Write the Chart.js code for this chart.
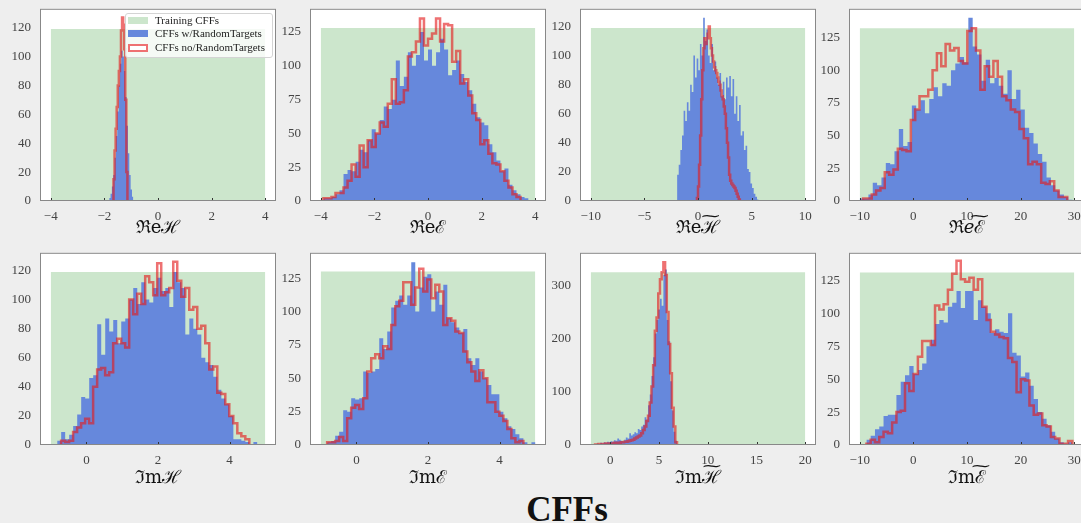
<!DOCTYPE html>
<html>
<head>
<meta charset="utf-8">
<title>CFFs</title>
<script src="https://cdn.jsdelivr.net/npm/chart.js@4.4.1/dist/chart.umd.min.js"></script>
<style>
  body { margin: 0; width: 1081px; height: 523px; overflow: hidden; position: relative; background: #eeeeee; }
  canvas { position: absolute; }
  .xt { position: absolute; z-index: 5; font-family: "DejaVu Serif", serif; font-size: 18px; line-height: 18px; color: #111; white-space: nowrap; transform: translateX(-50%); }
  .tw { position: relative; display: inline-block; }
  .tl { position: absolute; left: 50%; top: -11px; font-size: 14px; font-style: normal; transform: translateX(-50%) scaleX(1.9); }
  #leg { position: absolute; z-index: 5; left: 125px; top: 13px; width: 148px; height: 45px; box-sizing: border-box;
         background: rgba(255,255,255,0.8); border: 1px solid #d4d4d4; border-radius: 3px;
         font: 11px/13px "Liberation Serif", serif; color: #222; }
  #leg .sw { position: absolute; left: 2px; width: 20px; height: 7px; box-sizing: border-box; }
  #leg .lt { position: absolute; left: 29px; white-space: nowrap; }
  #title { position: absolute; z-index: 5; left: 567px; top: 492px; transform: translateX(-50%);
           font: bold 35px/35px "Liberation Serif", serif; color: #111; }
</style>
</head>
<body>
<div id="leg">
  <span class="sw" style="top:3px;background:#cce6cc"></span><span class="lt" style="top:0px">Training CFFs</span>
  <span class="sw" style="top:16px;background:#6688dc"></span><span class="lt" style="top:13px">CFFs w/RandomTargets</span>
  <span class="sw" style="top:30px;height:8px;background:#fff;border:2px solid rgba(228,26,28,0.62)"></span><span class="lt" style="top:27px">CFFs no/RandomTargets</span>
</div>
<div id="title">CFFs</div>
<script>
// panels: ReH, ReE, ReH~, ReE~, ImH, ImE, ImH~, ImE~
const xTitles = [
  'ℜeℋ', 'ℜeℰ', 'ℜe<span class="tw">ℋ<span class="tl">~</span></span>', 'ℜ<i>e</i><span class="tw">ℰ<span class="tl">~</span></span>',
  'ℑmℋ', 'ℑmℰ', 'ℑm<span class="tw">ℋ<span class="tl">~</span></span>', 'ℑm<span class="tw">ℰ<span class="tl">~</span></span>'
];

// axis limits and ticks
const xMin = [-4.4, -4.4, -11, -12, -1.3, -1.3, -3.1, -12];
const xMax = [4.4, 4.4, 11, 32, 5.3, 5.3, 21.1, 32];
const yMax = [133, 142.2, 132.2, 146.9, 132.2, 144, 361.6, 146];
const xTicks = [
  [-4, -2, 0, 2, 4], [-4, -2, 0, 2, 4], [-10, -5, 0, 5, 10], [-10, 0, 10, 20, 30],
  [0, 2, 4], [0, 2, 4], [0, 5, 10, 15, 20], [-10, 0, 10, 20, 30]
];
const yTicks = [
  [0, 20, 40, 60, 80, 100, 120], [0, 25, 50, 75, 100, 125], [0, 20, 40, 60, 80, 100, 120], [0, 25, 50, 75, 100, 125],
  [0, 20, 40, 60, 80, 100, 120], [0, 25, 50, 75, 100, 125], [0, 100, 200, 300], [0, 25, 50, 75, 100, 125]
];

// Training CFFs (flat band)
const trainLo = [-4, -4, -10, -10, -1, -1, -2, -10];
const trainHi = [4, 4, 10, 30, 5, 5, 20, 30];
const trainCount = [119, 128, 119, 132, 119, 130, 325, 131];

// CFFs w/RandomTargets
const blueStart = [-1.82, -3.9, -1.95, -10, -0.82, -0.82, -1.9, -8.76];
const blueWidth = [0.05, 0.15, 0.152, 0.81, 0.112, 0.112, 0.175, 0.8];
const blueReH = [2, 5, 10, 18, 30, 45, 62, 80, 95, 104, 100, 90, 72, 52, 33, 18, 8, 3];
const blueReE = [2, 2, 3, 5, 8, 20, 23, 22, 29, 38, 36, 45, 53, 50, 60, 70, 68, 75, 104, 85,
  92, 110, 100, 108, 125, 104, 112, 100, 110, 120, 112, 93, 97, 104, 94, 88, 82, 72, 62, 58,
  56, 42, 36, 30, 22, 24, 12, 8, 5, 3, 2];
const blueReHt = [18, 25, 35, 45, 62, 55, 68, 62, 80, 75, 100, 85, 98, 90, 108, 100, 126, 110, 118, 100,
  95, 108, 90, 96, 85, 80, 88, 72, 82, 70, 85, 78, 86, 72, 84, 60, 72, 55, 66, 45,
  48, 35, 38, 22, 20, 12, 9, 5, 3, 1];
const blueReEt = [2, 2, 5, 14, 12, 18, 29, 28, 38, 55, 42, 45, 73, 70, 77, 67, 78, 87, 80, 90,
  88, 100, 105, 110, 106, 140, 118, 112, 92, 108, 90, 94, 88, 82, 100, 78, 85, 70, 56, 52,
  44, 36, 30, 18, 12, 8, 5, 3, 1];
const blueImH = [3, 9, 4, 7, 13, 21, 33, 32, 46, 48, 83, 62, 87, 78, 86, 70, 85, 87, 100, 108,
  97, 112, 100, 98, 108, 115, 106, 108, 95, 119, 112, 108, 76, 87, 80, 76, 60, 57, 55, 47,
  38, 32, 28, 20, 4, 4, 3, 2, 0, 2];
const blueImE = [2, 3, 7, 10, 26, 25, 35, 34, 35, 55, 54, 55, 57, 80, 72, 85, 103, 108, 112, 105,
  112, 137, 100, 118, 126, 128, 100, 115, 105, 120, 95, 92, 88, 84, 87, 65, 60, 65, 55, 50,
  45, 38, 38, 25, 20, 14, 12, 8, 5, 2, 0, 2];
const blueImHt = [2, 0, 2, 3, 2, 4, 3, 5, 4, 6, 5, 7, 6, 9, 8, 12, 10, 8, 7, 10,
  14, 12, 22, 18, 20, 24, 22, 30, 28, 35, 38, 52, 48, 75, 95, 130, 165, 210, 235, 255,
  275, 262, 320, 330, 235, 195, 120, 65, 25, 8];
const blueImEt = [4, 7, 12, 14, 22, 23, 23, 38, 48, 53, 60, 54, 57, 62, 75, 80, 92, 95, 93, 105,
  108, 117, 104, 117, 117, 95, 110, 105, 100, 85, 88, 86, 85, 100, 70, 68, 52, 55, 45, 35,
  25, 20, 15, 10, 5, 2, 1, 2];

// CFFs no/RandomTargets
const redStart = [-1.66, -3.9, -0.1, -9.38, -0.71, -0.82, -1.55, -8.76];
const redWidth = [0.04, 0.15, 0.1, 0.81, 0.112, 0.112, 0.175, 0.8];
const redReH = [15, 35, 50, 65, 80, 90, 100, 118, 127, 122, 105, 70, 20];
const redReE = [2, 2, 3, 6, 6, 10, 15, 27, 18, 41, 25, 45, 40, 50, 58, 55, 72, 90, 72, 73,
  82, 107, 110, 118, 135, 115, 120, 124, 135, 118, 131, 130, 103, 111, 87, 90, 78, 65, 60, 42,
  45, 35, 28, 27, 22, 15, 10, 5, 3];
const redReHt = [2, 10, 25, 45, 70, 90, 105, 112, 108, 112, 115, 120, 112, 105, 100, 96, 92, 90, 88, 85,
  82, 80, 76, 72, 70, 65, 60, 50, 40, 30, 18, 14, 12, 11, 10, 9, 7, 5, 3, 1];
const redReEt = [2, 2, 5, 8, 10, 22, 20, 24, 40, 39, 38, 62, 70, 80, 80, 85, 100, 113, 103, 120,
  115, 117, 107, 105, 130, 132, 115, 85, 103, 95, 107, 95, 80, 77, 70, 68, 55, 48, 28, 30,
  28, 14, 13, 15, 8, 3, 3];
const redImH = [3, 2, 3, 9, 12, 15, 18, 15, 40, 52, 53, 48, 50, 70, 73, 70, 67, 100, 90, 104,
  97, 116, 112, 103, 125, 103, 105, 108, 126, 113, 102, 108, 93, 95, 80, 82, 70, 52, 54, 36,
  35, 28, 20, 15, 8, 6, 4];
const redImE = [2, 2, 3, 6, 3, 20, 28, 30, 27, 35, 55, 65, 68, 65, 74, 72, 90, 104, 108, 122,
  122, 105, 118, 132, 115, 124, 110, 120, 115, 90, 95, 93, 85, 84, 70, 62, 55, 48, 56, 50,
  32, 32, 25, 22, 18, 12, 5, 2, 3];
const redImHt = [1, 1, 2, 1, 2, 2, 3, 2, 3, 3, 3, 4, 3, 4, 4, 5, 5, 6, 6, 7,
  8, 9, 10, 12, 14, 16, 18, 22, 28, 35, 45, 55, 80, 110, 150, 215, 240, 285, 312, 325,
  344, 320, 250, 190, 135, 70, 35, 5];
const redImEt = [1, 4, 2, 6, 10, 9, 17, 25, 26, 47, 41, 54, 67, 79, 79, 76, 106, 103, 107, 118,
  130, 140, 126, 124, 127, 118, 126, 105, 95, 86, 84, 82, 81, 66, 63, 40, 50, 49, 30, 23,
  24, 15, 14, 6, 5, 1, 1, 3];

const blueCounts = [blueReH, blueReE, blueReHt, blueReEt, blueImH, blueImE, blueImHt, blueImEt];
const redCounts = [redReH, redReE, redReHt, redReEt, redImH, redImE, redImHt, redImEt];

// where each plot box sits on the page
const panelLeft = [40, 310, 580, 849, 40, 310, 580, 849];
const panelTop = [9, 9, 9, 9, 253, 253, 253, 253];
const AX_W = 236, AX_H = 192;
const titleTop = [218, 218, 218, 218, 468, 468, 468, 468];

Chart.defaults.font.family = '"Liberation Serif", serif';
Chart.defaults.font.size = 13;
Chart.defaults.color = '#444';

const fmt = v => (v < 0 ? '\u2212' : '') + Math.abs(v);

// outline of a histogram: corners of every bin
const histOutline = (start, width, counts) => {
  const pts = [{ x: start, y: 0 }];
  counts.forEach((c, k) => {
    pts.push({ x: start + k * width, y: c });
    pts.push({ x: start + (k + 1) * width, y: c });
  });
  pts.push({ x: start + counts.length * width, y: 0 });
  return pts;
};

const framePlugin = {
  id: 'frame',
  beforeDraw(chart) {
    const { ctx, chartArea: a } = chart;
    ctx.save();
    ctx.fillStyle = '#ffffff';
    ctx.fillRect(a.left, a.top, a.right - a.left, a.bottom - a.top);
    ctx.restore();
  },
  afterDatasetsDraw(chart) {
    const { ctx, chartArea: a, scales } = chart;
    ctx.save();
    ctx.strokeStyle = '#333';
    ctx.lineWidth = 1;
    scales.x.ticks.forEach(t => {
      const px = Math.round(scales.x.getPixelForValue(t.value)) + 0.5;
      ctx.beginPath();
      ctx.moveTo(px, a.bottom);
      ctx.lineTo(px, a.bottom - 3);
      ctx.stroke();
    });
    ctx.strokeStyle = '#888';
    ctx.strokeRect(a.left + 0.5, a.top + 0.5, a.right - a.left - 1, a.bottom - a.top - 1);
    ctx.restore();
  }
};

const makeConfig = i => ({
  type: 'line',
  data: {
    datasets: [
      { data: histOutline(redStart[i], redWidth[i], redCounts[i]), borderColor: 'rgba(228,26,28,0.62)', borderWidth: 2.5, fill: false },
      { data: histOutline(blueStart[i], blueWidth[i], blueCounts[i]), borderColor: 'transparent', borderWidth: 0, backgroundColor: '#6688dc', fill: 'origin' },
      { data: histOutline(trainLo[i], trainHi[i] - trainLo[i], [trainCount[i]]), borderColor: 'transparent', borderWidth: 0, backgroundColor: '#cce6cc', fill: 'origin' }
    ]
  },
  options: {
    responsive: false,
    animation: false,
    events: [],
    layout: { padding: { top: 12, right: 16, left: 0, bottom: 0 } },
    elements: { point: { radius: 0 }, line: { tension: 0, borderJoinStyle: 'miter' } },
    plugins: { legend: { display: false }, tooltip: { enabled: false } },
    scales: {
      x: {
        type: 'linear', min: xMin[i], max: xMax[i],
        grid: { display: false, drawTicks: false }, border: { display: false },
        ticks: { padding: 8, maxRotation: 0, autoSkip: false, callback: fmt },
        afterBuildTicks: s => { s.ticks = xTicks[i].map(v => ({ value: v })); },
        afterFit: s => { s.height = 28; }
      },
      y: {
        type: 'linear', min: 0, max: yMax[i],
        grid: { display: false, drawTicks: false }, border: { display: false },
        ticks: { padding: 9, autoSkip: false, callback: fmt },
        afterBuildTicks: s => { s.ticks = yTicks[i].map(v => ({ value: v })); },
        afterFit: s => { s.width = 40; }
      }
    }
  },
  plugins: [framePlugin]
});

const makeChart = (cv, i, w, h) => {
  cv.width = w; cv.height = h;
  cv.style.width = w + 'px'; cv.style.height = h + 'px';
  return new Chart(cv, makeConfig(i));
};

for (let i = 0; i < 8; i++) {
  const cv = document.createElement('canvas');
  document.body.appendChild(cv);
  // first pass to learn the margins around the plot box, then size it exactly
  const probe = makeChart(cv, i, 320, 240);
  const a = probe.chartArea;
  const L = a.left, T = a.top, R = 320 - a.right, B = 240 - a.bottom;
  probe.destroy();
  makeChart(cv, i, Math.round(AX_W + L + R), Math.round(AX_H + T + B));
  cv.style.left = (panelLeft[i] - L) + 'px';
  cv.style.top = (panelTop[i] - T) + 'px';

  const t = document.createElement('div');
  t.className = 'xt';
  t.innerHTML = xTitles[i];
  t.style.left = (panelLeft[i] + AX_W / 2) + 'px';
  t.style.top = titleTop[i] + 'px';
  document.body.appendChild(t);
}
</script>
</body>
</html>
